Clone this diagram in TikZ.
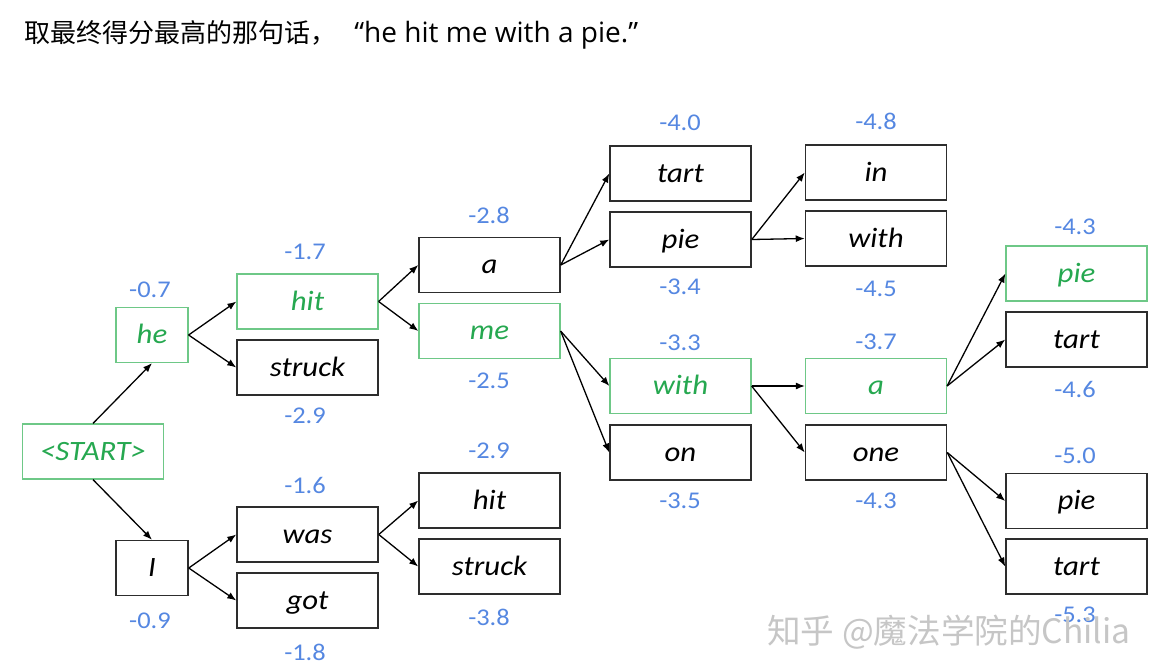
\documentclass[tikz,border=0pt]{standalone}
\usepackage{fontspec}
\setmainfont{Carlito}
\newfontfamily\wordfont[FakeStretch=1.1]{Carlito}
\newfontfamily\cjkfont{Noto Sans CJK SC}
\newfontfamily\latinfont{Open Sans}
\usetikzlibrary{arrows.meta}
\definecolor{pathgreen}{RGB}{38,168,80}
\definecolor{boxgreen}{RGB}{110,200,135}
\definecolor{scoreblue}{RGB}{85,135,225}
\definecolor{boxgray}{RGB}{45,45,45}

\begin{document}
\begin{tikzpicture}[x={(0.5pt,0pt)},y={(0pt,-0.5pt)},
        >={Latex[length=4.5pt,width=3.5pt]},
        word/.style={draw=boxgray,line width=0.75pt,minimum width=70.5pt,minimum height=27.5pt,
          inner sep=0pt,text height=10pt,text depth=1.5pt,font=\wordfont\itshape\fontsize{14}{16}\selectfont},
        narrow/.style={minimum width=36pt},
        best/.style={draw=boxgreen,line width=0.6pt,text=pathgreen},
        score/.style={text=scoreblue,inner sep=0pt,font=\wordfont\fontsize{12}{14}\selectfont},
        link/.style={->,line width=0.65pt}]
        \useasboundingbox (0,0) rectangle (1155,670);
        \node[anchor=west,inner sep=0pt] (title) at (24,35)
          {\cjkfont\fontsize{13}{15}\selectfont 取最终得分最高的那句话，\hspace{9pt}\latinfont\fontsize{14}{16}\selectfont “he hit me with a pie.”};
        % words
        \node[word,best] (start) at (93,451.5) {<START>};
        \node[word,best,narrow] (he) at (152,335) {he};
        \node[word,narrow] (i) at (152,568) {I};
        \node[word,best] (hit) at (307.5,301.5) {hit};
        \node[word] (struck) at (307.5,367.5) {struck};
        \node[word] (was) at (307.5,534.5) {was};
        \node[word] (got) at (307.5,600.5) {got};
        \node[word] (a) at (489.5,265) {a};
        \node[word,best] (me) at (489.5,331) {me};
        \node[word] (hitb) at (489.5,500.5) {hit};
        \node[word] (struckb) at (489.5,566.5) {struck};
        \node[word] (tart) at (680.5,173.5) {tart};
        \node[word] (pie) at (680.5,239.5) {pie};
        \node[word,best] (with) at (680.5,386) {with};
        \node[word] (on) at (680.5,452.5) {on};
        \node[word] (in) at (876,172.5) {in};
        \node[word] (withb) at (876,238.5) {with};
        \node[word,best] (ab) at (876,386) {a};
        \node[word] (one) at (876,452.5) {one};
        \node[word,best] (pieb) at (1076.5,273.5) {pie};
        \node[word] (tartb) at (1076.5,339.5) {tart};
        \node[word] (piec) at (1076.5,501) {pie};
        \node[word] (tartc) at (1076.5,566.5) {tart};
        % scores
        \node[score] (s-he) at (150,290) {-0.7};
        \node[score] (s-i) at (150,621) {-0.9};
        \node[score] (s-hit) at (305,252) {-1.7};
        \node[score] (s-struck) at (305,416) {-2.9};
        \node[score] (s-was) at (305,485) {-1.6};
        \node[score] (s-got) at (305,652) {-1.8};
        \node[score] (s-a) at (489,215) {-2.8};
        \node[score] (s-me) at (489,381) {-2.5};
        \node[score] (s-hitb) at (489,451) {-2.9};
        \node[score] (s-struckb) at (489,617) {-3.8};
        \node[score] (s-tart) at (680,123) {-4.0};
        \node[score] (s-pie) at (680,287) {-3.4};
        \node[score] (s-with) at (680,343) {-3.3};
        \node[score] (s-on) at (680,501) {-3.5};
        \node[score] (s-in) at (876,121) {-4.8};
        \node[score] (s-withb) at (876,289) {-4.5};
        \node[score] (s-ab) at (876,342) {-3.7};
        \node[score] (s-one) at (876,501) {-4.3};
        \node[score] (s-pieb) at (1075,227) {-4.3};
        \node[score] (s-tartb) at (1075,389) {-4.6};
        \node[score] (s-piec) at (1075,456) {-5.0};
        \node[score] (s-tartc) at (1075,615) {-5.3};
        % links
        \draw[link] (start.north) -- (he.south);
        \draw[link] (start.south) -- (i.north);
        \draw[link] (he.east) -- (hit.west);
        \draw[link] (he.east) -- (struck.west);
        \draw[link] (i.east) -- (was.west);
        \draw[link] (i.east) -- (got.west);
        \draw[link] (hit.east) -- (a.west);
        \draw[link] (hit.east) -- (me.west);
        \draw[link] (was.east) -- (hitb.west);
        \draw[link] (was.east) -- (struckb.west);
        \draw[link] (a.east) -- (tart.west);
        \draw[link] (a.east) -- (pie.west);
        \draw[link] (me.east) -- (with.west);
        \draw[link] (me.east) -- (on.west);
        \draw[link] (pie.east) -- (in.west);
        \draw[link] (pie.east) -- (withb.west);
        \draw[link] (with.east) -- (ab.west);
        \draw[link] (with.east) -- (one.west);
        \draw[link] (ab.east) -- (pieb.west);
        \draw[link] (ab.east) -- (tartb.west);
        \draw[link] (one.east) -- (piec.west);
        \draw[link] (one.east) -- (tartc.west);
        \node[text=gray!45,inner sep=0pt,font=\cjkfont\fontsize{16.8}{19}\selectfont] (mark) at (949,632) {知乎 @魔法学院的Chilia};
\end{tikzpicture}
\end{document}
